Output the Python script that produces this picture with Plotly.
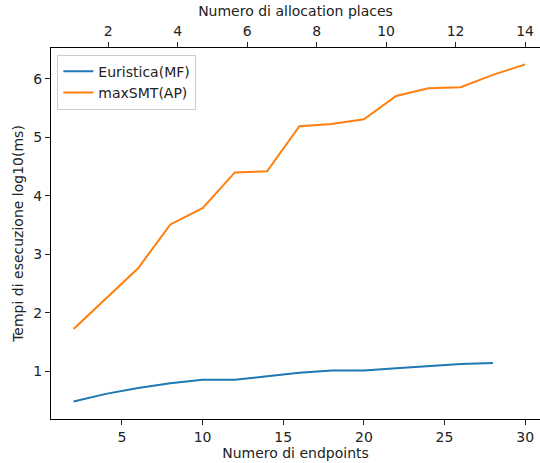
import plotly.graph_objects as go

# Execution times (log10 of milliseconds) against the number of endpoints
endpoints_mf = [2, 4, 6, 8, 10, 12, 14, 16, 18, 20, 22, 24, 26, 28]
euristica_mf = [0.48, 0.61, 0.71, 0.79, 0.85, 0.85, 0.91, 0.97, 1.01, 1.01, 1.05, 1.09, 1.12, 1.14]

endpoints_ap = [2, 4, 6, 8, 10, 12, 14, 16, 18, 20, 22, 24, 26, 28, 30]
maxsmt_ap = [1.72, 2.24, 2.76, 3.51, 3.79, 4.40, 4.42, 5.19, 5.23, 5.31, 5.71, 5.84, 5.86, 6.07, 6.25]

# Secondary scale: number of allocation places
allocation_places = [1, 14]
top_ticks = [2, 4, 6, 8, 10, 12, 14]

FONT = "DejaVu Sans, Liberation Sans, sans-serif"
BLUE = "#1f77b4"
ORANGE = "#ff7f0e"
FS = 14

fig = go.Figure()
fig.add_trace(go.Scatter(x=endpoints_mf, y=euristica_mf, mode="lines", name="Euristica(MF)",
                         line=dict(color=BLUE, width=2)))
fig.add_trace(go.Scatter(x=endpoints_ap, y=maxsmt_ap, mode="lines", name="maxSMT(AP)",
                         line=dict(color=ORANGE, width=2)))
# invisible trace to anchor the top axis
fig.add_trace(go.Scatter(x=allocation_places, y=[None, None], xaxis="x2", mode="lines",
                         showlegend=False, hoverinfo="skip", line=dict(color="rgba(0,0,0,0)")))

axis_common = dict(showgrid=False, zeroline=False, showline=True, linecolor="black", linewidth=1.2,
                   ticks="outside", ticklen=5, tickwidth=1.2, tickcolor="#222",
                   tickfont=dict(family=FONT, size=FS, color="#222"))

fig.update_layout(
    width=540, height=463,
    margin=dict(l=51, r=0, t=48, b=44),
    paper_bgcolor="white", plot_bgcolor="white",
    font=dict(family=FONT, size=FS, color="#222"),
    xaxis=dict(range=[0.6, 30.92], tickvals=[5, 10, 15, 20, 25, 30],
               title=dict(text="Numero di endpoints", font=dict(family=FONT, size=FS, color="#222"),
                          standoff=3),
               **axis_common),
    xaxis2=dict(range=[0.355, 14.43], tickvals=top_ticks, overlaying="x", side="top", anchor="y",
                title=dict(text="Numero di allocation places", font=dict(family=FONT, size=FS, color="#222"),
                           standoff=3),
                **axis_common),
    yaxis=dict(range=[0.18, 6.53], tickvals=[1, 2, 3, 4, 5, 6],
               title=dict(text="Tempi di esecuzione log10(ms)", font=dict(family=FONT, size=FS, color="#222"),
                          standoff=6),
               **axis_common),
    legend=dict(x=0.013, y=0.982, xanchor="left", yanchor="top",
                bgcolor="rgba(255,255,255,0.8)", bordercolor="#cccccc", borderwidth=1,
                tracegroupgap=0, itemwidth=30,
                font=dict(family=FONT, size=FS, color="#222")),
    showlegend=True,
)

fig.write_html("out.html")
